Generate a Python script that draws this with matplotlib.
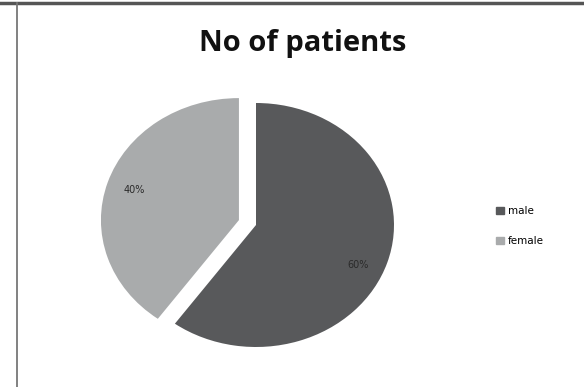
import matplotlib
matplotlib.use('Agg')
import matplotlib.pyplot as plt
from matplotlib.lines import Line2D

# patients by gender
labels = ['male', 'female']
shares = [60, 40]
colors = ['#58595b', '#a9abac']

fig = plt.figure(figsize=(5.84, 3.87), dpi=100)
fig.patch.set_facecolor('white')

W, H = 584.0, 387.0
# pie centre and radii in pixels (chart is stretched sideways)
cx, cy = 256.0, 387.0 - 225.0
rx, ry = 138.0, 122.0
x0, x1 = -1.3, 1.2
y0, y1 = -1.15, 1.15
ax = fig.add_axes([(cx + x0 * rx) / W, (cy + y0 * ry) / H,
                   (x1 - x0) * rx / W, (y1 - y0) * ry / H])

wedges, texts, autotexts = ax.pie(
    shares, colors=colors, startangle=90, counterclock=False,
    explode=[0, 0.13], autopct='%d%%', pctdistance=0.8,
    textprops={'fontsize': 7, 'color': '#2a2a2a'})
# nudge the male label down a bit
autotexts[0].set_position((0.74, -0.33))
ax.set_aspect('auto')
ax.set_xlim(x0, x1)
ax.set_ylim(y0, y1)
ax.axis('off')

fig.text(303 / W, 1 - 43 / H, 'No of patients', ha='center', va='center',
         fontsize=21, fontweight='bold', color='#111111', family='Open Sans')

handles = [plt.Rectangle((0, 0), 1, 1, color=c) for c in colors]
fig.legend(handles, labels, loc='center left', bbox_to_anchor=(487 / W, 1 - 226 / H),
           frameon=False, fontsize=7.5, handlelength=0.7, handleheight=0.7,
           handletextpad=0.4, labelspacing=1.9)

# border lines of the sheet
fig.add_artist(Line2D([0, 1], [1 - 3 / H, 1 - 3 / H], color='#555555', lw=2.5))
fig.add_artist(Line2D([17 / W, 17 / W], [0, 1 - 3 / H], color='#777777', lw=1.3))

fig.savefig('out.png', dpi=100, facecolor='white')
